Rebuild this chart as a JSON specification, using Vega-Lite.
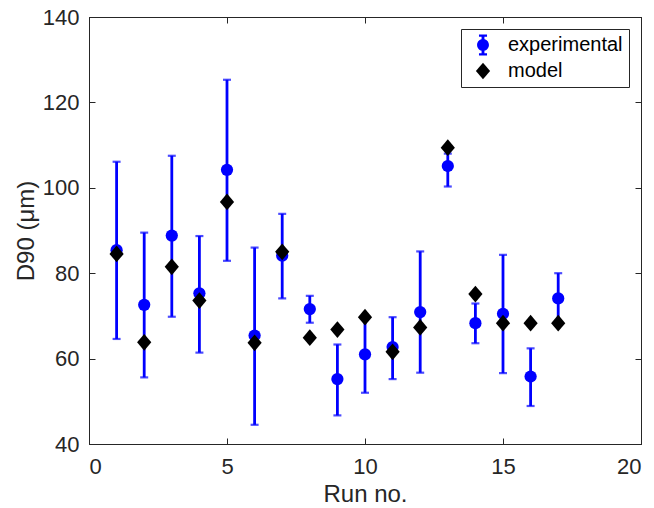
{
  "$schema": "https://vega.github.io/schema/vega-lite/v6.json",
  "width": 552,
  "height": 427,
  "autosize": "none",
  "padding": {"left": 89, "top": 17, "right": 13, "bottom": 64},
  "background": "white",
  "config": {
    "font": "Liberation Sans",
    "view": {"stroke": "#262626", "strokeWidth": 1},
    "axis": {
      "grid": false,
      "domainColor": "#262626",
      "tickColor": "#262626",
      "labelColor": "#262626",
      "titleColor": "#262626",
      "labelFontSize": 22,
      "titleFontSize": 24,
      "titleFontWeight": "normal",
      "tickSize": -6
    },
    "legend": {
      "orient": "top-right",
      "offset": 12,
      "strokeColor": "#262626",
      "fillColor": "white",
      "padding": 6,
      "labelFontSize": 20,
      "labelColor": "#000000",
      "symbolSize": 280,
      "symbolStrokeWidth": 0,
      "rowPadding": 5,
      "labelOffset": 15,
      "symbolOffset": 6
    }
  },
  "data": {
    "values": [
      {"run": 1, "exp": 85.4, "lo": 64.6, "hi": 106.1, "model": 84.5},
      {"run": 2, "exp": 72.6, "lo": 55.6, "hi": 89.5, "model": 63.8},
      {"run": 3, "exp": 88.8, "lo": 69.8, "hi": 107.5, "model": 81.5},
      {"run": 4, "exp": 75.3, "lo": 61.4, "hi": 88.7, "model": 73.6},
      {"run": 5, "exp": 104.2, "lo": 82.9, "hi": 125.3, "model": 96.7},
      {"run": 6, "exp": 65.4, "lo": 44.5, "hi": 86.0, "model": 63.7},
      {"run": 7, "exp": 84.1, "lo": 74.1, "hi": 93.9, "model": 85.0},
      {"run": 8, "exp": 71.6, "lo": 68.4, "hi": 74.7, "model": 64.9},
      {"run": 9, "exp": 55.2, "lo": 46.7, "hi": 63.3, "model": 66.8},
      {"run": 10, "exp": 61.0, "lo": 52.0, "hi": 69.7, "model": 69.7},
      {"run": 11, "exp": 62.7, "lo": 55.2, "hi": 69.7, "model": 61.6},
      {"run": 12, "exp": 70.9, "lo": 56.7, "hi": 85.1, "model": 67.3},
      {"run": 13, "exp": 105.1, "lo": 100.3, "hi": 108.0, "model": 109.4},
      {"run": 14, "exp": 68.3, "lo": 63.6, "hi": 72.9, "model": 75.1},
      {"run": 15, "exp": 70.5, "lo": 56.6, "hi": 84.3, "model": 68.3},
      {"run": 16, "exp": 55.8, "lo": 48.9, "hi": 62.4, "model": 68.3},
      {"run": 17, "exp": 74.1, "lo": 68.0, "hi": 80.0, "model": 68.3}
    ]
  },
  "resolve": {"axis": {"x": "independent", "y": "independent"}},
  "layer": [
    {
      "mark": {"type": "rule", "color": "#0000ff", "strokeWidth": 2.8},
      "encoding": {
        "x": {"field": "run", "type": "quantitative", "scale": {"domain": [0, 20]},
              "axis": {"orient": "bottom", "title": "Run no.", "values": [0, 5, 10, 15, 20], "labelPadding": 18, "titlePadding": 5}},
        "y": {"field": "lo", "type": "quantitative", "scale": {"domain": [40, 140]},
              "axis": {"orient": "left", "title": "D90 (μm)", "values": [40, 60, 80, 100, 120, 140], "labelPadding": 16, "titlePadding": 4}},
        "y2": {"field": "hi"}
      }
    },
    {
      "mark": {"type": "tick", "orient": "horizontal", "color": "#0000ff", "size": 8, "thickness": 2.2},
      "encoding": {
        "x": {"field": "run", "type": "quantitative", "axis": null},
        "y": {"field": "lo", "type": "quantitative", "axis": null}
      }
    },
    {
      "mark": {"type": "tick", "orient": "horizontal", "color": "#0000ff", "size": 8, "thickness": 2.2},
      "encoding": {
        "x": {"field": "run", "type": "quantitative", "axis": null},
        "y": {"field": "hi", "type": "quantitative", "axis": null}
      }
    },
    {
      "mark": {"type": "point", "filled": true, "shape": "circle", "size": 150, "opacity": 1},
      "encoding": {
        "x": {"field": "run", "type": "quantitative", "axis": null},
        "y": {"field": "exp", "type": "quantitative", "axis": null},
        "color": {"datum": "experimental", "type": "nominal",
                  "scale": {"domain": ["experimental", "model"], "range": ["#0000ff", "#000000"]},
                  "legend": {"title": null}}
      }
    },
    {
      "mark": {"type": "point", "filled": true, "size": 280, "opacity": 1},
      "encoding": {
        "x": {"field": "run", "type": "quantitative",
              "axis": {"orient": "top", "labels": false, "title": null, "values": [0, 5, 10, 15, 20]}},
        "y": {"field": "model", "type": "quantitative",
              "axis": {"orient": "right", "labels": false, "title": null, "values": [40, 60, 80, 100, 120, 140]}},
        "color": {"datum": "model", "type": "nominal"},
        "shape": {"datum": "model", "type": "nominal",
                  "scale": {"domain": ["experimental", "model"],
                            "range": ["M 0 -0.71 A 0.71 0.71 0 1 1 0 0.71 A 0.71 0.71 0 1 1 0 -0.71 Z M -0.17 -1.25 L 0.17 -1.25 L 0.17 1.25 L -0.17 1.25 Z M -0.48 -1.25 L 0.48 -1.25 L 0.48 -0.99 L -0.48 -0.99 Z M -0.48 0.99 L 0.48 0.99 L 0.48 1.25 L -0.48 1.25 Z",
                                      "M -0.85 0 L 0 -1 L 0.85 0 L 0 1 Z"]},
                  "legend": {"title": null}}
      }
    }
  ]
}
